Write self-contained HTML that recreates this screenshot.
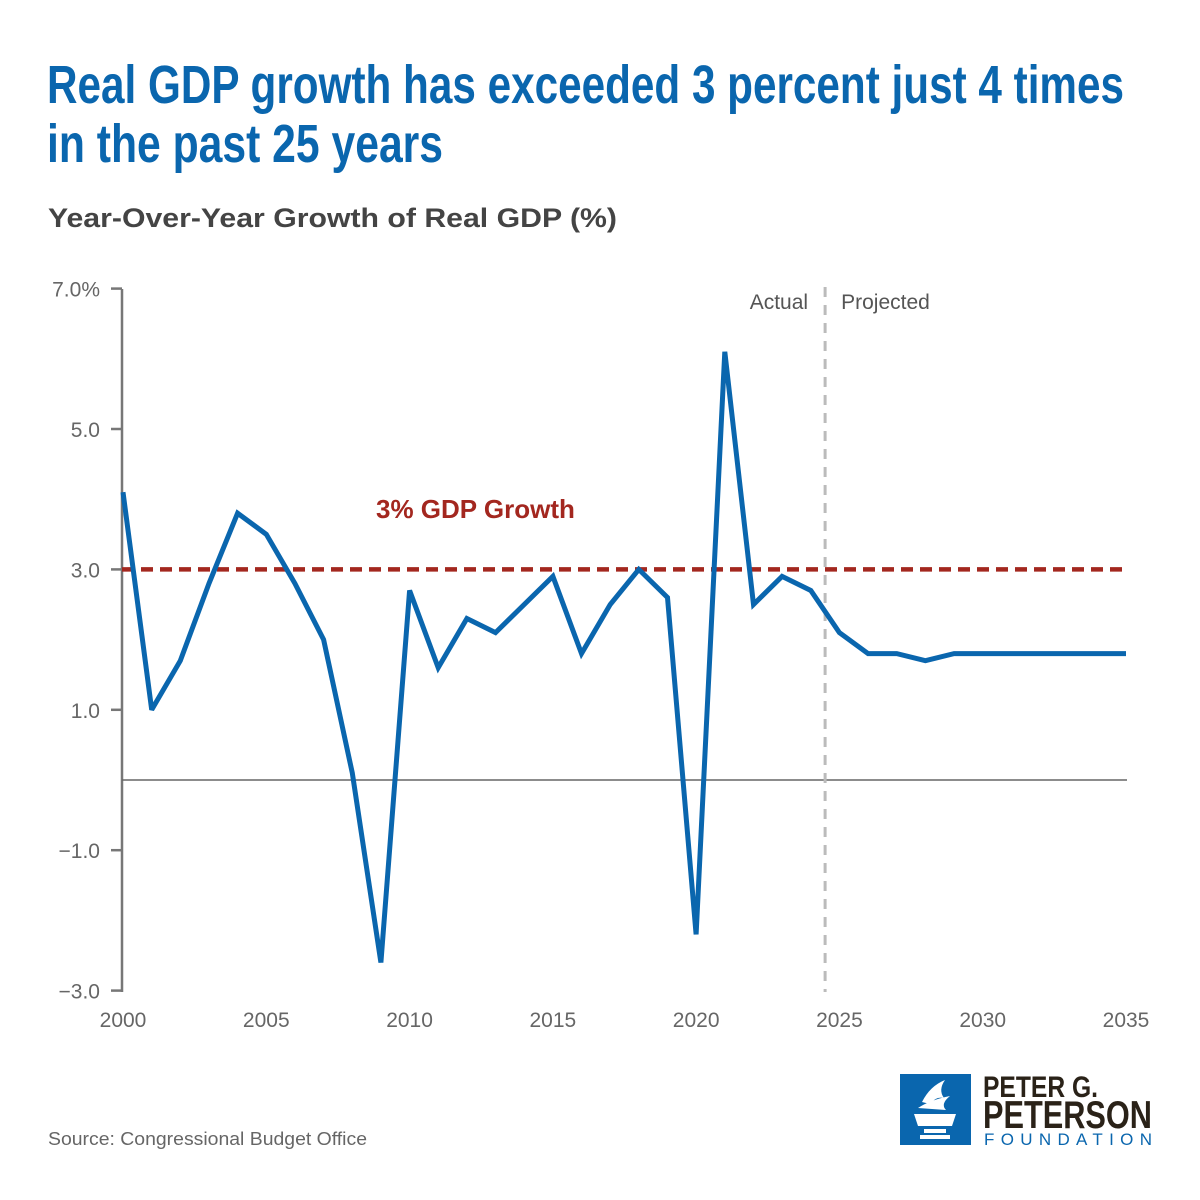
<!DOCTYPE html>
<html><head><meta charset="utf-8"><style>
body{margin:0;background:#fff;}
#wrap{position:relative;width:1200px;height:1200px;overflow:hidden;font-family:"Liberation Sans",sans-serif;}
</style></head><body>
<div id="wrap">
<svg width="1200" height="1200" style="position:absolute;left:0;top:0" font-family="Liberation Sans, sans-serif">
<text x="47" y="103" font-size="54" font-weight="bold" fill="#0a66ae" textLength="1077" lengthAdjust="spacingAndGlyphs">Real GDP growth has exceeded 3 percent just 4 times</text>
<text x="47" y="162" font-size="54" font-weight="bold" fill="#0a66ae" textLength="396" lengthAdjust="spacingAndGlyphs">in the past 25 years</text>
<text x="48" y="227" font-size="27" font-weight="bold" fill="#444" textLength="569" lengthAdjust="spacingAndGlyphs">Year-Over-Year Growth of Real GDP (%)</text>
<text x="48" y="1145" font-size="18" fill="#666" textLength="319" lengthAdjust="spacingAndGlyphs">Source: Congressional Budget Office</text>
<g>
<rect x="900" y="1074" width="71" height="71" fill="#0a66ae"/>
<path d="M922 1102 Q930 1086 945 1080 Q938 1090 944 1098 Q936 1096 930 1104Z M918 1108 Q930 1100 950 1096 Q940 1104 946 1110Z" fill="#fff"/>
<path d="M914 1114 H956 L952 1126 H918Z" fill="#fff"/><rect x="924" y="1129" width="22" height="4" fill="#fff"/><rect x="920" y="1135" width="30" height="4" fill="#fff"/>
</g>
<text x="983" y="1097" font-size="30" font-weight="bold" fill="#2a2218" textLength="115" lengthAdjust="spacingAndGlyphs">PETER G.</text>
<text x="983" y="1128" font-size="39" font-weight="bold" fill="#2a2218" textLength="169" lengthAdjust="spacingAndGlyphs">PETERSON</text>
<text x="984" y="1145" font-size="17" fill="#0a66ae" textLength="168" lengthAdjust="spacing">FOUNDATION</text>
</g>
</svg>
<svg id="chart" width="1200" height="1200" style="position:absolute;left:0;top:0"></svg>
</div>
<script>
const years=[2000,2001,2002,2003,2004,2005,2006,2007,2008,2009,2010,2011,2012,2013,2014,2015,2016,2017,2018,2019,2020,2021,2022,2023,2024,2025,2026,2027,2028,2029,2030,2031,2032,2033,2034,2035];
const growth=[4.1,1.0,1.7,2.8,3.8,3.5,2.8,2.0,0.1,-2.6,2.7,1.6,2.3,2.1,2.5,2.9,1.8,2.5,3.0,2.6,-2.2,6.1,2.5,2.9,2.7,2.1,1.8,1.8,1.7,1.8,1.8,1.8,1.8,1.8,1.8,1.8];
const yTicks=[7,5,3,1,-1,-3];
const yTickLabels=["7.0%","5.0","3.0","1.0","\u22121.0","\u22123.0"];
const xTicks=[2000,2005,2010,2015,2020,2025,2030,2035];
const reference=3.0;
const dividerYear=2024.5;
const NS="http://www.w3.org/2000/svg";
const svg=document.getElementById('chart');
const X=v=>123+(v-2000)*(1126-123)/35;
const Y=v=>780-v*70.2;
function mk(tag,attrs){const e=document.createElementNS(NS,tag);for(const k in attrs)e.setAttribute(k,attrs[k]);svg.appendChild(e);return e;}
let ax=mk('line',{x1:122,y1:289,x2:122,y2:992,stroke:'#777','stroke-width':2.5});


yTicks.forEach((v,i)=>{
  const tk=mk('line',{x1:111,x2:122,y1:Y(v),y2:Y(v),stroke:'#777','stroke-width':2.5});
  
  
  const t=mk('text',{x:100,y:Y(v)+8,'text-anchor':'end','font-size':21,fill:'#666','font-family':'Liberation Sans, sans-serif'});
  t.textContent=yTickLabels[i];
  
  
});
xTicks.forEach(v=>{
  const t=mk('text',{x:X(v),y:1027,'text-anchor':'middle','font-size':21,fill:'#666','font-family':'Liberation Sans, sans-serif'});
  t.textContent=v;
  
  
});
const z=mk('line',{x1:122,x2:1127,y1:Y(0),y2:Y(0),stroke:'#666','stroke-width':1.5});


const dv=mk('line',{x1:X(dividerYear),x2:X(dividerYear),y1:287,y2:992,stroke:'#bbb','stroke-width':3,'stroke-dasharray':'10 8'});


const la=mk('text',{x:X(dividerYear)-17,y:309,'text-anchor':'end','font-size':21,fill:'#555','font-family':'Liberation Sans, sans-serif'});
la.textContent='Actual';


const lp=mk('text',{x:X(dividerYear)+16,y:309,'font-size':21,fill:'#555','font-family':'Liberation Sans, sans-serif'});
lp.textContent='Projected';


const rl=mk('line',{x1:122,x2:1127,y1:Y(reference),y2:Y(reference),stroke:'#a3271f','stroke-width':4.5,'stroke-dasharray':'12 7'});


const rt=mk('text',{x:376,y:518,'font-size':26,'font-weight':'bold',fill:'#a3271f','font-family':'Liberation Sans, sans-serif'});
rt.textContent='3% GDP Growth';


const pts=years.map((y,i)=>X(y).toFixed(1)+','+Y(growth[i]).toFixed(1)).join(' ');
const pl=mk('polyline',{points:pts,fill:'none',stroke:'#0a66ae','stroke-width':5,'stroke-linejoin':'miter','stroke-miterlimit':3});


</script>
</body></html>
